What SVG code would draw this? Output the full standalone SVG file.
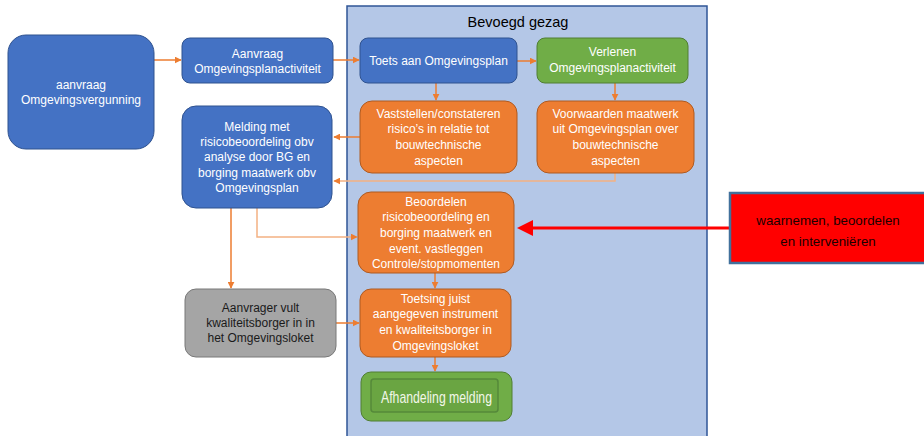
<svg xmlns="http://www.w3.org/2000/svg" width="924" height="436" viewBox="0 0 924 436">
<defs>
<style>
.blue{fill:#4472c4;stroke:#2f528f;stroke-width:1}
.orange{fill:#ed7d31;stroke:#ae5a21;stroke-width:1}
.green{fill:#70ad47;stroke:#507e32;stroke-width:1}
.gray{fill:#a5a5a5;stroke:#787878;stroke-width:1}
.t{font-family:"Liberation Sans",Arial,sans-serif;font-size:12px;fill:#ffffff;text-anchor:middle;dominant-baseline:central}
.dark{fill:#1a1a1a}
.c{fill:none;stroke:#ed7d31;stroke-width:1.5}
.cl{fill:none;stroke:#f4b183;stroke-width:1.5}
</style>
<marker id="a" viewBox="0 0 10 10" refX="9" refY="5" markerWidth="7" markerHeight="7" markerUnits="userSpaceOnUse" orient="auto"><path d="M0,0L10,5L0,10z" fill="#ed7d31"/></marker>
<marker id="al" viewBox="0 0 10 10" refX="9" refY="5" markerWidth="7" markerHeight="7" markerUnits="userSpaceOnUse" orient="auto"><path d="M0,0L10,5L0,10z" fill="#ed7d31"/></marker>
</defs>
<rect width="924" height="436" fill="#ffffff"/>
<g id="bevoegd-gezag">
<rect x="347" y="6" width="360" height="436" fill="#b4c7e7" stroke="#2f5597" stroke-width="1.5"/>
<text x="518" y="22" font-family="'Liberation Sans',Arial,sans-serif" font-size="14.5" fill="#000" text-anchor="middle" dominant-baseline="central">Bevoegd gezag</text>
</g>
<g id="connectors">
<line class="c" x1="154" y1="60" x2="181" y2="60" marker-end="url(#a)"/>
<line class="c" x1="333" y1="60" x2="359" y2="60" marker-end="url(#a)"/>
<line class="c" x1="517" y1="61" x2="536" y2="61" marker-end="url(#a)"/>
<line class="c" x1="436" y1="83" x2="436" y2="100" marker-end="url(#a)"/>
<line class="c" x1="615" y1="83" x2="615" y2="100" marker-end="url(#a)"/>
<line class="c" x1="360" y1="137" x2="334" y2="137" marker-end="url(#a)"/>
<polyline class="cl" points="615,173 615,181 334,181" marker-end="url(#al)"/>
<polyline class="cl" points="257,208 257,237 357,237" marker-end="url(#al)"/>
<line class="c" x1="231" y1="208" x2="231" y2="288" marker-end="url(#a)"/>
<line class="c" x1="336" y1="323" x2="359" y2="323" marker-end="url(#a)"/>
<line class="c" x1="435" y1="273" x2="435" y2="288" marker-end="url(#a)"/>
<line class="c" x1="435" y1="357" x2="435" y2="371" marker-end="url(#a)"/>
<line x1="730" y1="228" x2="530" y2="228" stroke="#ff0000" stroke-width="3"/>
<path d="M517,228L533,220L533,236z" fill="#ff0000"/>
</g>
<g id="aanvraag-omgevingsvergunning">
<rect class="blue" x="8" y="35" width="146" height="114" rx="18"/>
<text class="t" x="81" y="85">aanvraag</text>
<text class="t" x="81" y="100">Omgevingsvergunning</text>
</g>
<g id="aanvraag-opa">
<rect class="blue" x="182" y="38" width="151" height="45" rx="8"/>
<text class="t" x="257.5" y="54">Aanvraag</text>
<text class="t" x="257.5" y="69">Omgevingsplanactiviteit</text>
</g>
<g id="melding">
<rect class="blue" x="182" y="106" width="150" height="102" rx="14"/>
<text class="t" x="257" y="127">Melding met</text>
<text class="t" x="257" y="142">risicobeoordeling obv</text>
<text class="t" x="257" y="157">analyse door BG en</text>
<text class="t" x="257" y="173">borging maatwerk obv</text>
<text class="t" x="257" y="188">Omgevingsplan</text>
</g>
<g id="toets">
<rect class="blue" x="360" y="38" width="157" height="45" rx="8"/>
<text class="t" x="438.5" y="61">Toets aan Omgevingsplan</text>
</g>
<g id="verlenen">
<rect class="green" x="537" y="38" width="151" height="45" rx="8"/>
<text class="t" x="612.5" y="52">Verlenen</text>
<text class="t" x="612.5" y="68">Omgevingsplanactiviteit</text>
</g>
<g id="vaststellen">
<rect class="orange" x="360" y="101" width="157" height="72" rx="12"/>
<text class="t" x="438.5" y="114">Vaststellen/constateren</text>
<text class="t" x="438.5" y="129">risico’s in relatie tot</text>
<text class="t" x="438.5" y="145">bouwtechnische</text>
<text class="t" x="438.5" y="161">aspecten</text>
</g>
<g id="voorwaarden">
<rect class="orange" x="537" y="101" width="157" height="72" rx="12"/>
<text class="t" x="615.5" y="114">Voorwaarden maatwerk</text>
<text class="t" x="615.5" y="129">uit Omgevingsplan over</text>
<text class="t" x="615.5" y="145">bouwtechnische</text>
<text class="t" x="615.5" y="161">aspecten</text>
</g>
<g id="beoordelen">
<rect class="orange" x="358" y="192" width="156" height="81" rx="13"/>
<text class="t" x="436" y="202">Beoordelen</text>
<text class="t" x="436" y="217">risicobeoordeling en</text>
<text class="t" x="436" y="233">borging maatwerk en</text>
<text class="t" x="436" y="249">event. vastleggen</text>
<text class="t" x="436" y="264">Controle/stopmomenten</text>
</g>
<g id="aanvrager">
<rect class="gray" x="185" y="289" width="151" height="68" rx="11"/>
<text class="t dark" x="260.5" y="308">Aanvrager vult</text>
<text class="t dark" x="260.5" y="323">kwaliteitsborger in in</text>
<text class="t dark" x="260.5" y="338">het Omgevingsloket</text>
</g>
<g id="toetsing">
<rect class="orange" x="360" y="289" width="151" height="68" rx="11"/>
<text class="t" x="435.5" y="299">Toetsing juist</text>
<text class="t" x="435.5" y="314">aangegeven instrument</text>
<text class="t" x="435.5" y="330">en kwaliteitsborger in</text>
<text class="t" x="435.5" y="346">Omgevingsloket</text>
</g>
<g id="afhandeling">
<rect class="green" x="361" y="372" width="151" height="49" rx="10"/>
<rect x="371" y="379" width="127" height="33" rx="3" fill="#6aa542" stroke="#55893a" stroke-width="1.5"/>
<text x="436.5" y="397" font-family="'Liberation Sans',Arial,sans-serif" font-size="17" fill="#f2f7e8" text-anchor="middle" dominant-baseline="central" textLength="111" lengthAdjust="spacingAndGlyphs">Afhandeling melding</text>
</g>
<g id="waarnemen">
<rect x="730" y="193" width="198" height="70" fill="#ff0000" stroke="#41719c" stroke-width="2.5"/>
<text x="828" y="220" font-family="'Liberation Sans',Arial,sans-serif" font-size="13.3" fill="#1a0000" text-anchor="middle" dominant-baseline="central">waarnemen, beoordelen</text>
<text x="828" y="241" font-family="'Liberation Sans',Arial,sans-serif" font-size="13.3" fill="#1a0000" text-anchor="middle" dominant-baseline="central">en interveniëren</text>
</g>
</svg>
